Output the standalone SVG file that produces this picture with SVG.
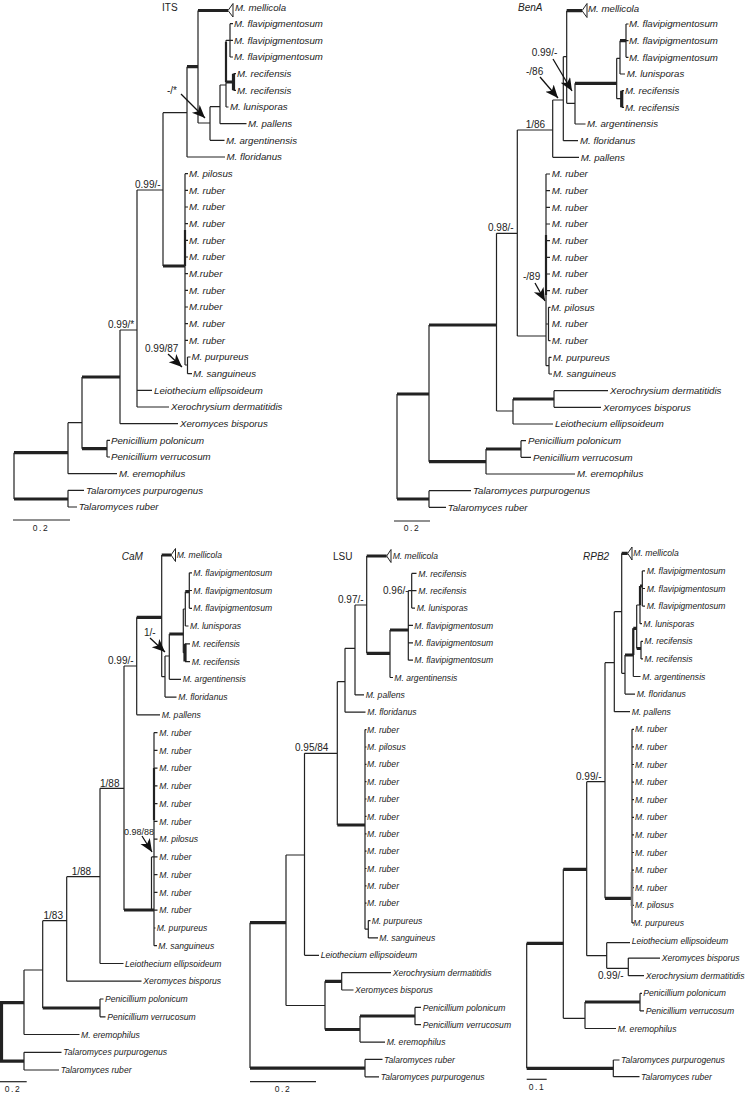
<svg xmlns="http://www.w3.org/2000/svg" width="745" height="1095" viewBox="0 0 745 1095">
<defs>
<style>
.tx{font-family:"Liberation Sans",Arial,sans-serif;fill:#222}
.sp{font-style:italic;font-size:9.7px}
.sb{font-style:italic;font-size:8.6px}
.lb{font-size:10px}
.it{font-style:italic}
.sc{font-size:8.5px;letter-spacing:1.5px;text-anchor:middle}
.ln{fill:none;stroke:#222;stroke-width:1.2}
.tk{fill:none;stroke:#222;stroke-width:3.2}
.md{fill:none;stroke:#222;stroke-width:2.2}
.gr{fill:none;stroke:#777;stroke-width:2.5}
.ar{fill:none;stroke:#111;stroke-width:1.3;marker-end:url(#ah)}
.tri{fill:#fff;stroke:#222;stroke-width:1}
</style>
<marker id="ah" markerUnits="userSpaceOnUse" markerWidth="14" markerHeight="12" refX="13" refY="5.5" orient="auto"><path d="M0,0L13,5.5L0,11L3.5,5.5Z" fill="#111"/></marker>
</defs>
<rect width="745" height="1095" fill="#fff"/>

<!-- ITS -->
<g id="ITS">
<g id="ITS-connectors">
<path class="ln" d="M14,452.7V499M68,490.3V507M68,490.3H84M68,507H77M68,422.7V473.7M68,422.7H82M68,473.7H117M82,377V448.7M107,440.3V457M107,440.3H110M107,457H110M120,330V423.7M120,330H137M120,423.7H178M137,190V407M137,190H163M137,390.3H152M137,407H169M163,112.7V266M163,112.7H187M185,173.7V365M185,173.7H188M185,190.3H188M185,207H188M185,223.7H188M185,240.3H188M185,257H188M185,273.7H188M185,290.3H188M185,307H188M185,323.7H188M185,340.3H188M187.5,357V373.7M185,365H187.5M187.5,357H190.5M187.5,373.7H192M187,66.7V157M187,157H225M198,10.5V123M198,123H210M210,106.7V140.3M210,106.7H220M210,140.3H224.5M220,85V123.7M220,85H226M220,123.7H246.5M226,40.3V107M226,40.3H230M226,107H228.5M230,23.7V57M230,23.7H233M230,40.3H233M230,57H233M233.5,73.7H236M233.5,90.3H236"/>
<path class="tk" d="M14,452.7H68M14,499H68M82,377H120M82,448.7H107M163,266H185M187,66.7H198M198,10.5H228M226,82H233.5M233.5,73.7V90.3"/>
<path class="md" d="M185,230V266M226,42V82"/>
<polygon class="tri" points="228,10.5 233,3.5 233,17"/>
<path class="ar" d="M181,94L205,118"/>
<path class="ar" d="M168,354L182,367"/>
<path class="ln" d="M13,520H70"/>
</g>
<g id="ITS-labels" class="tx">
<text class="lb" x="162" y="10.5">ITS</text>
<g class="sp">
<text x="235" y="11">M. mellicola</text>
<text x="234" y="27.1">M. flavipigmentosum</text>
<text x="234" y="43.7">M. flavipigmentosum</text>
<text x="234" y="60.4">M. flavipigmentosum</text>
<text x="237" y="77.1">M. recifensis</text>
<text x="237" y="93.7">M. recifensis</text>
<text x="230" y="110.4">M. lunisporas</text>
<text x="248" y="127.1">M. pallens</text>
<text x="226" y="143.7">M. argentinensis</text>
<text x="226.5" y="160.4">M. floridanus</text>
<text x="189" y="177.1">M. pilosus</text>
<text x="189" y="193.7">M. ruber</text>
<text x="189" y="210.4">M. ruber</text>
<text x="189" y="227.1">M. ruber</text>
<text x="189" y="243.7">M. ruber</text>
<text x="189" y="260.4">M. ruber</text>
<text x="189" y="277.1">M.ruber</text>
<text x="189" y="293.7">M. ruber</text>
<text x="189" y="310.4">M.ruber</text>
<text x="189" y="327.1">M. ruber</text>
<text x="189" y="343.7">M. ruber</text>
<text x="191.5" y="360.4">M. purpureus</text>
<text x="193" y="377.1">M. sanguineus</text>
<text x="154" y="393.7">Leiothecium ellipsoideum</text>
<text x="171" y="410.4">Xerochrysium dermatitidis</text>
<text x="180" y="427.1">Xeromyces bisporus</text>
<text x="111" y="443.7">Penicillium polonicum</text>
<text x="111" y="460.4">Penicillium verrucosum</text>
<text x="119" y="477.1">M. eremophilus</text>
<text x="86" y="493.7">Talaromyces purpurogenus</text>
<text x="78.7" y="510.4">Talaromyces ruber</text>
</g>
<g class="lb">
<text x="167" y="93.5">-/*</text>
<text x="135" y="187.5">0.99/-</text>
<text x="108" y="327.5">0.99/*</text>
<text x="145" y="351.5">0.99/87</text>
</g>
<text class="sc" x="41" y="530.5">0.2</text>
</g>
</g>

<!-- BenA -->
<g id="BenA">
<g id="BenA-connectors">
<path class="ln" d="M397,394V499M429,490.7V507.3M429,490.7H471M429,507.3H446M429,325V461.7M486,449V474M486,474H575M521,440.7V457.3M521,440.7H526M521,457.3H531M496.5,233.3V411M496.5,233.3H517.3M496.5,411H513M513,399V424M513,424H553M554,390.7V407.3M554,390.7H608M554,407.3H601M517.3,130V336M517.3,130H552.7M517.3,336H546M546,174V365.7M546,174H550M546,190.7H550M546,207.3H550M546,224H550M546,240.7H550M546,257.3H550M546,274H550M546,290.7H550M548.5,307.3V340.7M546,324H548.5M548.5,307.3H550.5M548.5,340.7H550.5M549,357.3V374M546,365.7H549M549,357.3H551.5M549,374H552M552.7,100V157.3M552.7,100H563.3M552.7,157.3H579M563.3,56.7V140.7M563.3,56.7H566.7M563.3,140.7H578M566.7,10.7V103.3M566.7,103.3H575M575,83.3V124M575,124H585.5M616.7,58.3V98.7M616.7,58.3H620M616.7,98.7H621.7M620,40.7V74M620,74H625M626,24V57.3M626,24H628.5M626,40.7H628.5M626,57.3H628.5M621.7,90.7H624M621.7,107.3H624"/>
<path class="tk" d="M397,394H429M397,499H429M429,325H496.5M429,461.7H486M486,449H521M513,399H554M566.7,10.7H582M575,83.3H616.7M620,40.7H626M621.7,90.7V107.3"/>
<path class="md" d="M546,235V295"/>
<polygon class="tri" points="582,10.7 587,3.5 587,17.5"/>
<path class="ar" d="M553,59L572,91"/>
<path class="ar" d="M540,77L558,98"/>
<path class="ar" d="M535,283L545,301"/>
<path class="ln" d="M394,521H430"/>
</g>
<g id="BenA-labels" class="tx">
<text class="lb it" x="518" y="10.5">BenA</text>
<g class="sp">
<text x="588" y="11.5">M. mellicola</text>
<text x="629" y="27.4">M. flavipigmentosum</text>
<text x="629" y="44.1">M. flavipigmentosum</text>
<text x="629" y="60.7">M. flavipigmentosum</text>
<text x="626.7" y="77.4">M. lunisporas</text>
<text x="625" y="94.1">M. recifensis</text>
<text x="625" y="110.7">M. recifensis</text>
<text x="587" y="127.4">M. argentinensis</text>
<text x="580" y="144.1">M. floridanus</text>
<text x="580.7" y="160.7">M. pallens</text>
<text x="551.7" y="177.4">M. ruber</text>
<text x="551.7" y="194.1">M. ruber</text>
<text x="551.7" y="210.7">M. ruber</text>
<text x="551.7" y="227.4">M. ruber</text>
<text x="551.7" y="244.1">M. ruber</text>
<text x="551.7" y="260.7">M. ruber</text>
<text x="551.7" y="277.4">M. ruber</text>
<text x="551.7" y="294.1">M. ruber</text>
<text x="551" y="310.7">M. pilosus</text>
<text x="551.7" y="327.4">M. ruber</text>
<text x="551.7" y="344.1">M. ruber</text>
<text x="552.7" y="360.7">M. purpureus</text>
<text x="553" y="377.4">M. sanguineus</text>
<text x="610" y="394.1">Xerochrysium dermatitidis</text>
<text x="603" y="410.7">Xeromyces bisporus</text>
<text x="555" y="427.4">Leiothecium ellipsoideum</text>
<text x="528" y="444.1">Penicillium polonicum</text>
<text x="533" y="460.7">Penicillium verrucosum</text>
<text x="577" y="477.4">M. eremophilus</text>
<text x="473" y="494.1">Talaromyces purpurogenus</text>
<text x="447.7" y="510.7">Talaromyces ruber</text>
</g>
<g class="lb">
<text x="531.7" y="56">0.99/-</text>
<text x="526" y="75">-/86</text>
<text x="525.7" y="127.5">1/86</text>
<text x="488" y="231">0.98/-</text>
<text x="523" y="280">-/89</text>
</g>
<text class="sc" x="412" y="531">0.2</text>
</g>
</g>

<!-- CaM -->
<g id="CaM">
<g id="CaM-connectors">
<path class="ln" d="M24,1052.3V1070M24,1052.3H61.5M24,1070H59M24,970V1034.5M24,970H42.7M24,1034.5H79.5M42.7,920.7V1008M42.7,920.7H66.7M100,999V1016.8M100,999H103.5M100,1016.8H105.5M66.7,876.7V981.2M66.7,876.7H100M66.7,981.2H141.5M100,788.3V963.5M100,788.3H124M100,963.5H123.5M124,666V910M124,666H136.7M154,732.6V945.7M154,732.6H157.5M154,750.4H157.5M154,768.1H157.5M154,785.9H157.5M154,803.6H157.5M154,821.4H157.5M154,839.2H157.5M154,856.9H157.5M154,874.7H157.5M154,892.4H157.5M154,910.2H157.5M154,928H155.5M154,945.7H157M151.5,856.9V910M151.5,856.9H154M136.7,617.3V714.8M136.7,714.8H160M161.7,555V676.7M161.7,676.7H165M165,656V697.1M165,656H169.3M165,697.1H176.5M169.3,634V679.3M169.3,679.3H181M183.3,609V652.7M183.3,609H185.3M183.3,652.7H185M185.3,591.7V626M185.3,626H188.5M189.3,572.8V608.3M189.3,572.8H192M189.3,590.5H192M189.3,608.3H192M185,643.8H190M185,661.6H190"/>
<path class="tk" d="M1.5,1002.7V1061.2M0,1002.7H24M0,1061.2H24M42.7,1008H100M124,910H154M136.7,617.3H161.7M161.7,555H171M169.3,634H183.3M185.3,591.7H189.3M185,643.8V661.6"/>
<path class="md" d="M154,768V820"/>
<polygon class="tri" points="171,555 175.5,548.5 175.5,561.5"/>
<path class="ar" d="M150,638L165,652"/>
<path class="ar" d="M142,836L152,852"/>
<path class="ln" d="M0,1081.7H26.7"/>
</g>
<g id="CaM-labels" class="tx">
<text class="lb it" x="121.7" y="559.5">CaM</text>
<g class="sb">
<text x="176.7" y="558.1">M. mellicola</text>
<text x="193.3" y="575.9">M. flavipigmentosum</text>
<text x="193.3" y="593.6">M. flavipigmentosum</text>
<text x="193.3" y="611.4">M. flavipigmentosum</text>
<text x="190" y="629.1">M. lunisporas</text>
<text x="191.7" y="646.9">M. recifensis</text>
<text x="191.7" y="664.7">M. recifensis</text>
<text x="182.7" y="682.4">M. argentinensis</text>
<text x="178.3" y="700.2">M. floridanus</text>
<text x="161.7" y="717.9">M. pallens</text>
<text x="159.3" y="735.7">M. ruber</text>
<text x="159.3" y="753.5">M. ruber</text>
<text x="159.3" y="771.2">M. ruber</text>
<text x="159.3" y="789">M. ruber</text>
<text x="159.3" y="806.7">M. ruber</text>
<text x="159.3" y="824.5">M. ruber</text>
<text x="159.3" y="842.3">M. pilosus</text>
<text x="159.3" y="860">M. ruber</text>
<text x="159.3" y="877.8">M. ruber</text>
<text x="159.3" y="895.5">M. ruber</text>
<text x="159.3" y="913.3">M. ruber</text>
<text x="156.7" y="931.1">M. purpureus</text>
<text x="158.3" y="948.8">M. sanguineus</text>
<text x="125" y="966.6">Leiothecium ellipsoideum</text>
<text x="143.3" y="984.3">Xeromyces bisporus</text>
<text x="105" y="1002.1">Penicillium polonicum</text>
<text x="107.3" y="1019.9">Penicillium verrucosum</text>
<text x="81" y="1037.6">M. eremophilus</text>
<text x="63.3" y="1055.4">Talaromyces purpurogenus</text>
<text x="60.7" y="1073.1">Talaromyces ruber</text>
</g>
<g class="lb">
<text x="144" y="635.5">1/-</text>
<text x="108" y="664">0.99/-</text>
<text x="100" y="786.5">1/88</text>
<text x="124" y="834.5" style="font-size:9px">0.98/88</text>
<text x="71.7" y="874.5">1/88</text>
<text x="43.5" y="918.5">1/83</text>
</g>
<text class="sc" x="13" y="1092">0.2</text>
</g>
</g>

<!-- LSU -->
<g id="LSU">
<g id="LSU-connectors">
<path class="ln" d="M250,922.7V1068.1M365,1059.4V1076.8M365,1059.4H382.5M365,1076.8H379M286,855V1005.5M286,855H304.5M286,1005.5H325M325,981.3V1029.5M341.7,972.6V990M341.7,972.6H391M341.7,990H353.5M360,1016V1042.1M360,1042.1H385M415,1007.4V1024.7M415,1007.4H421M415,1024.7H421M304.5,753.3V955.3M304.5,753.3H337.3M304.5,955.3H319M337.3,681.7V825M337.3,681.7H345M365,729.6V929.2M365,729.6H366.5M365,747H366.5M365,764.3H366.5M365,781.7H366.5M365,799H366.5M365,816.4H366.5M365,833.8H366.5M365,851.1H366.5M365,868.5H366.5M365,885.8H366.5M365,903.2H366.5M368.3,920.6V937.9M365,929.2H368.3M368.3,920.6H370.5M368.3,937.9H378M345,648.3V712.2M345,648.3H355M345,712.2H365.5M355,605V694.9M355,605H366.7M355,694.9H364M366.7,556V653.3M390,630V677.5M390,677.5H393M408.3,590.7V660.2M408.3,590.7H411.7M408.3,625.4H413M408.3,642.8H413M408.3,660.2H413M411.7,573.4V608.1M411.7,573.4H416.5M411.7,590.7H416.5M411.7,608.1H415"/>
<path class="tk" d="M250,922.7H286M250,1068.1H365M325,981.3H341.7M325,1029.5H360M360,1016H415M337.3,825H365M366.7,556H386.7M366.7,653.3H390M390,630H408.3"/>
<polygon class="tri" points="386.7,556 391,549.5 391,562.5"/>
<path class="ln" d="M250,1081.7H316"/>
</g>
<g id="LSU-labels" class="tx">
<text class="lb" x="333" y="560">LSU</text>
<g class="sb">
<text x="392.7" y="559.1">M. mellicola</text>
<text x="418.3" y="576.5">M. recifensis</text>
<text x="418.3" y="593.8">M. recifensis</text>
<text x="416.7" y="611.2">M. lunisporas</text>
<text x="414.3" y="628.5">M. flavipigmentosum</text>
<text x="414.3" y="645.9">M. flavipigmentosum</text>
<text x="414.3" y="663.3">M. flavipigmentosum</text>
<text x="394.3" y="680.6">M. argentinensis</text>
<text x="365.7" y="698">M. pallens</text>
<text x="367.3" y="715.3">M. floridanus</text>
<text x="367" y="732.7">M. ruber</text>
<text x="367" y="750.1">M. pilosus</text>
<text x="367" y="767.4">M. ruber</text>
<text x="367" y="784.8">M. ruber</text>
<text x="367" y="802.1">M. ruber</text>
<text x="367" y="819.5">M. ruber</text>
<text x="367" y="836.9">M. ruber</text>
<text x="367" y="854.2">M. ruber</text>
<text x="367" y="871.6">M. ruber</text>
<text x="367" y="888.9">M. ruber</text>
<text x="367" y="906.3">M. ruber</text>
<text x="371.7" y="923.7">M. purpureus</text>
<text x="379.3" y="941">M. sanguineus</text>
<text x="320.7" y="958.4">Leiothecium ellipsoideum</text>
<text x="392.7" y="975.7">Xerochrysium dermatitidis</text>
<text x="355" y="993.1">Xeromyces bisporus</text>
<text x="422.7" y="1010.5">Penicillium polonicum</text>
<text x="422.7" y="1027.8">Penicillium verrucosum</text>
<text x="386.7" y="1045.2">M. eremophilus</text>
<text x="384" y="1062.5">Talaromyces ruber</text>
<text x="380.7" y="1079.9">Talaromyces purpurogenus</text>
</g>
<g class="lb">
<text x="338" y="603">0.97/-</text>
<text x="383" y="594">0.96/-</text>
<text x="295" y="751">0.95/84</text>
</g>
<text class="sc" x="283" y="1092">0.2</text>
</g>
</g>

<!-- RPB2 -->
<g id="RPB2">
<g id="RPB2-connectors">
<path class="ln" d="M526.7,943.3V1068.3M613.3,1060V1076.7M613.3,1060H619.5M613.3,1076.7H639.5M563.3,869.3V1018.3M563.3,1018.3H585M585,1002V1028.5M585,1028.5H616M640,993.3V1010.9M640,993.3H642M640,1010.9H644M586.7,781.7V955.7M586.7,781.7H605M586.7,955.7H606.7M606.7,942.7V968.3M606.7,942.7H630M606.7,968.3H628.3M628.3,958.1V975.7M628.3,958.1H660M628.3,975.7H644M605,662.7V898.3M605,662.7H614.3M632,729.3V922.9M632,729.3H634M632,746.9H634M632,764.5H634M632,782.1H634M632,799.7H634M632,817.3H634M632,834.9H634M632,852.5H634M632,870.1H634M632,887.7H634M632,905.3H634M632,922.9H634M614.3,611.7V711.7M614.3,611.7H621.7M614.3,711.7H630M621.7,553.3V673.3M621.7,673.3H625M625,655V694.1M625,694.1H635M633.3,628.3V676.5M633.3,676.5H640.5M636.7,605V648.5M636.7,605H640M640,586V623.7M640,623.7H642M642.3,570.9V606.1M642.3,570.9H645M642.3,588.5H645M642.3,606.1H645M641,641.3V658.9M641,641.3H643M641,658.9H643"/>
<path class="tk" d="M526.7,943.3H563.3M526.7,1068.3H613.3M563.3,869.3H586.7M585,1002H640M605,898.3H632M621.7,553.3H627.7M625,655H633.3M633.3,628.3H636.7M636.7,648.5H641M640,586H642.3"/>
<path class="md" d="M633.3,628.3V655M640,586V605"/>
<path class="gr" d="M632,872V906"/>
<polygon class="tri" points="627.7,553.3 632,547 632,560"/>
<path class="ln" d="M526.7,1079.3H546.7"/>
</g>
<g id="RPB2-labels" class="tx">
<text class="lb it" x="583" y="560">RPB2</text>
<g class="sb">
<text x="633.3" y="556.4">M. mellicola</text>
<text x="646.7" y="574">M. flavipigmentosum</text>
<text x="646.7" y="591.6">M. flavipigmentosum</text>
<text x="646.7" y="609.2">M. flavipigmentosum</text>
<text x="643.3" y="626.8">M. lunisporas</text>
<text x="644.3" y="644.4">M. recifensis</text>
<text x="644.3" y="662">M. recifensis</text>
<text x="642.3" y="679.6">M. argentinensis</text>
<text x="636.7" y="697.2">M. floridanus</text>
<text x="631.7" y="714.8">M. pallens</text>
<text x="635" y="732.4">M. ruber</text>
<text x="635" y="750">M. ruber</text>
<text x="635" y="767.6">M. ruber</text>
<text x="635" y="785.2">M. ruber</text>
<text x="635" y="802.8">M. ruber</text>
<text x="635" y="820.4">M. ruber</text>
<text x="635" y="838">M. ruber</text>
<text x="635" y="855.6">M. ruber</text>
<text x="635" y="873.2">M. ruber</text>
<text x="635" y="890.8">M. ruber</text>
<text x="635" y="908.4">M. pilosus</text>
<text x="633.3" y="926">M. purpureus</text>
<text x="631.7" y="943.6">Leiothecium ellipsoideum</text>
<text x="661.7" y="961.2">Xeromyces bisporus</text>
<text x="645.7" y="978.8">Xerochrysium dermatitidis</text>
<text x="643.3" y="996.4">Penicillium polonicum</text>
<text x="645.7" y="1014">Penicillium verrucosum</text>
<text x="617.7" y="1031.6">M. eremophilus</text>
<text x="621" y="1063.1">Talaromyces purpurogenus</text>
<text x="641" y="1079.8">Talaromyces ruber</text>
</g>
<g class="lb">
<text x="576" y="779.5">0.99/-</text>
<text x="598" y="979">0.99/-</text>
</g>
<text class="sc" x="537" y="1090">0.1</text>
</g>
</g>
</svg>
